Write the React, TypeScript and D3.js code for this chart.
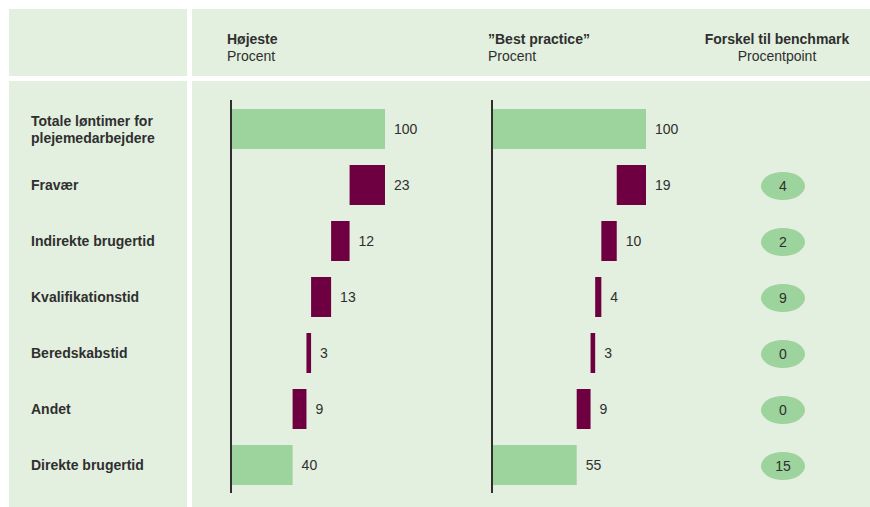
import React from "react";
import * as d3 from "d3";

const categories = [
  ["Totale løntimer for", "plejemedarbejdere"],
  ["Fravær"],
  ["Indirekte brugertid"],
  ["Kvalifikationstid"],
  ["Beredskabstid"],
  ["Andet"],
  ["Direkte brugertid"],
];
const kinds = ["total", "sub", "sub", "sub", "sub", "sub", "total"];
const hoejeste = [100, 23, 12, 13, 3, 9, 40];
const bestPractice = [100, 19, 10, 4, 3, 9, 55];
const forskel: (number | null)[] = [null, 4, 2, 9, 0, 0, 15];

const W = 870;
const H = 507;
const BG = "#e3efdf";
const GREEN = "#9dd39c";
const PURPLE = "#6e0042";
const TEXT = "#2f2f2f";
const FONT = "'Liberation Sans', Arial, Helvetica, sans-serif";
const FS = 14;

function waterfall(vals: number[]) {
  let level = vals[0];
  return vals.map((v, i) => {
    if (kinds[i] === "total") {
      return { x0: 0, x1: v, v };
    }
    const r = { x0: level - v, x1: level, v };
    level -= v;
    return r;
  });
}

const y = d3
  .scaleBand<number>()
  .domain(d3.range(categories.length))
  .range([101, 493])
  .paddingInner(16 / 56)
  .paddingOuter(8 / 56);

function Panel({ vals, x0px }: { vals: number[]; x0px: number }) {
  const x = d3.scaleLinear().domain([0, 100]).range([x0px, x0px + 154]);
  const segs = waterfall(vals);
  return (
    <g>
      {segs.map((s, i) => (
        <g key={i}>
          <rect
            x={x(s.x0)}
            y={y(i)!}
            width={x(s.x1) - x(s.x0)}
            height={y.bandwidth()}
            fill={kinds[i] === "total" ? GREEN : PURPLE}
          />
          <text
            x={x(s.x1) + 9}
            y={y(i)! + y.bandwidth() / 2}
            dy="0.36em"
            fontSize={FS}
            fill={TEXT}
          >
            {s.v}
          </text>
        </g>
      ))}
      <line x1={x(0)} x2={x(0)} y1={100} y2={493} stroke={TEXT} strokeWidth={2} />
    </g>
  );
}

export default function App() {
  return (
    <svg
      width={W}
      height={H}
      style={{ position: "absolute", left: 0, top: 0, background: "#ffffff" }}
      fontFamily={FONT}
    >
      <rect x={9} y={9} width={178} height={67} fill={BG} />
      <rect x={192} y={9} width={678} height={67} fill={BG} />
      <rect x={9} y={81} width={178} height={426} fill={BG} />
      <rect x={192} y={81} width={678} height={426} fill={BG} />

      <g fontSize={FS} fill={TEXT}>
        <text x={227} y={44} fontWeight="bold">Højeste</text>
        <text x={227} y={61}>Procent</text>
        <text x={488} y={44} fontWeight="bold">”Best practice”</text>
        <text x={488} y={61}>Procent</text>
        <text x={777} y={44} fontWeight="bold" textAnchor="middle">Forskel til benchmark</text>
        <text x={777} y={61} textAnchor="middle">Procentpoint</text>
      </g>

      <g fontSize={FS} fontWeight="bold" fill={TEXT}>
        {categories.map((lines, i) => {
          const cy = y(i)! + y.bandwidth() / 2;
          const start = cy - ((lines.length - 1) * 17) / 2;
          return (
            <text key={i} x={31} y={start} dy="0.36em">
              {lines.map((l, j) => (
                <tspan key={j} x={31} y={start + j * 17} dy="0.36em">
                  {l}
                </tspan>
              ))}
            </text>
          );
        })}
      </g>

      <Panel vals={hoejeste} x0px={231} />
      <Panel vals={bestPractice} x0px={492} />

      {forskel.map((d, i) =>
        d === null ? null : (
          <g key={i}>
            <ellipse cx={783} cy={y(i)! + y.bandwidth() / 2 + 1} rx={22} ry={14} fill={GREEN} />
            <text
              x={783}
              y={y(i)! + y.bandwidth() / 2 + 1}
              dy="0.36em"
              textAnchor="middle"
              fontSize={FS}
              fill={TEXT}
            >
              {d}
            </text>
          </g>
        )
      )}
    </svg>
  );
}
